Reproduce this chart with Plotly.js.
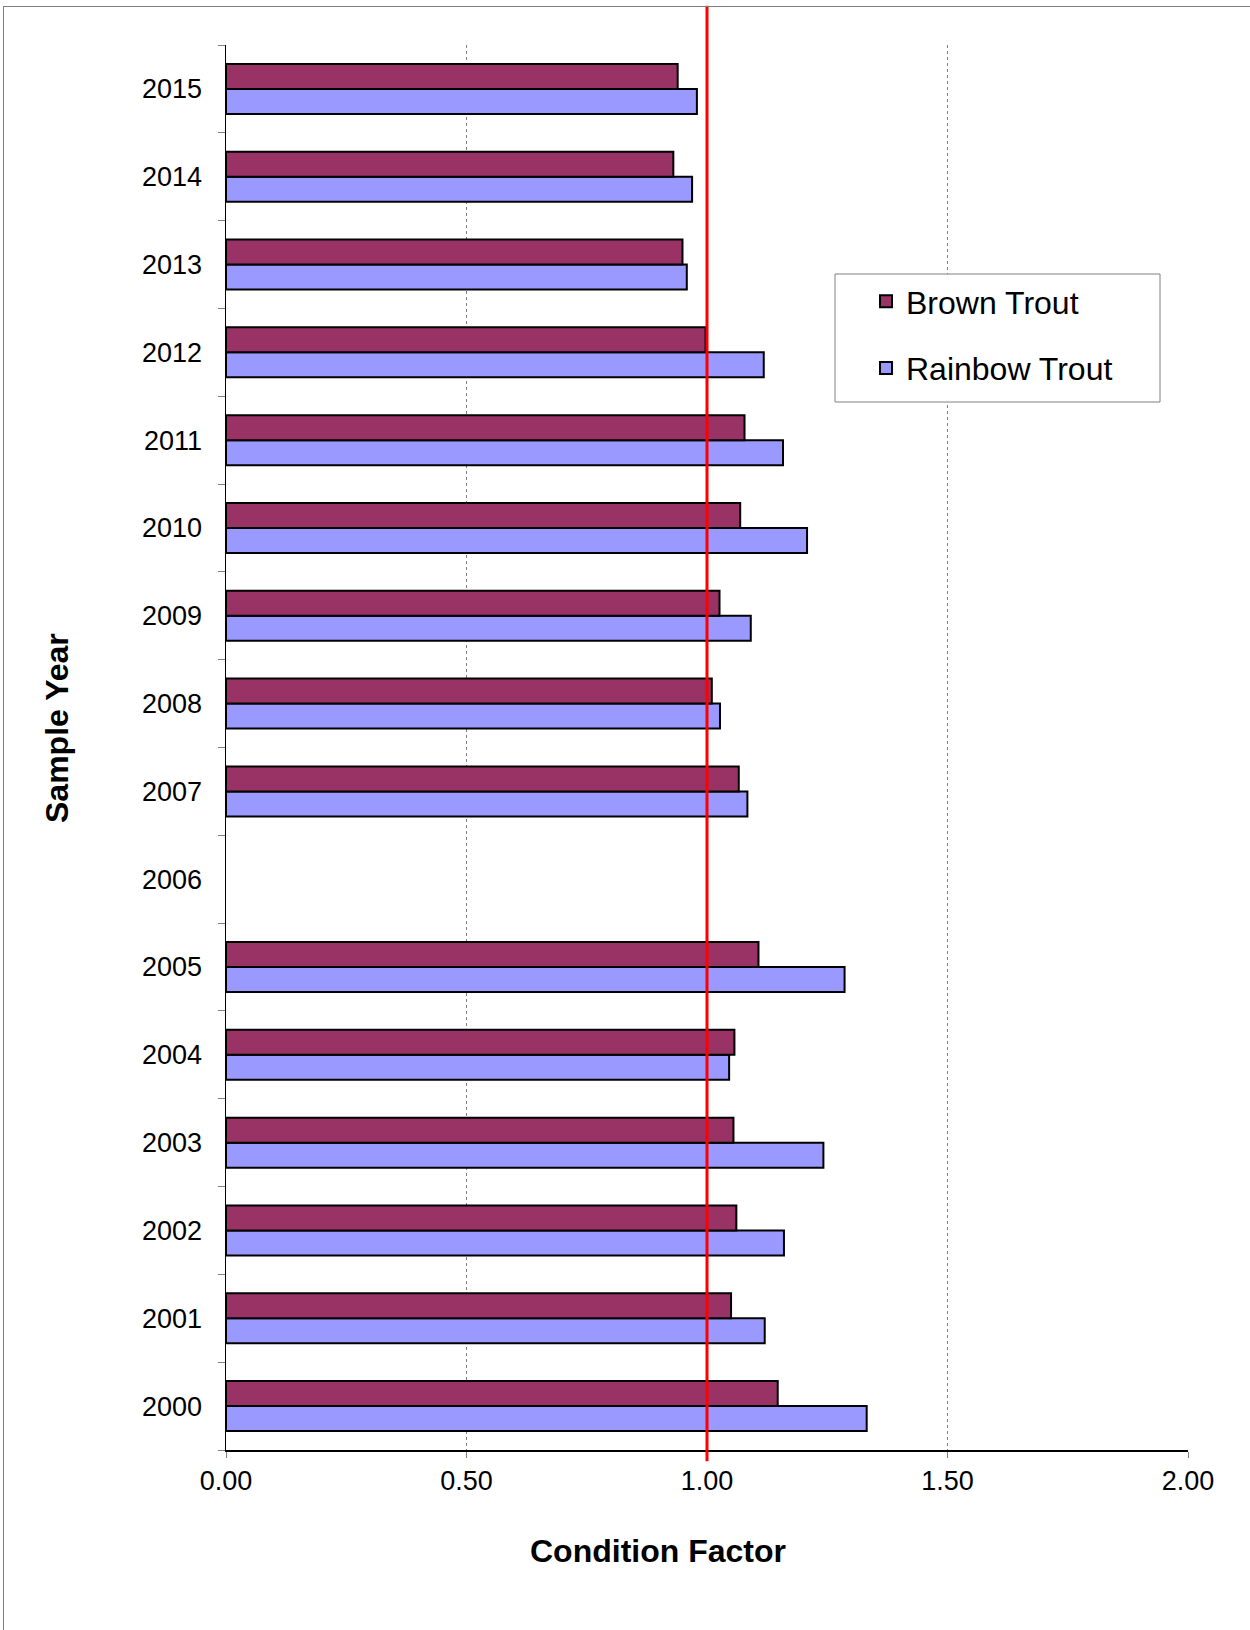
<!DOCTYPE html>
<html>
<head>
<meta charset="utf-8">
<script src="https://cdn.plot.ly/plotly-3.0.1.min.js"></script>
<style>
  html, body { margin: 0; padding: 0; background: #fff; }
  #wrap { position: relative; width: 1250px; height: 1630px; }
  #chart { width: 1250px; height: 1630px; }
  #frame { position: absolute; left: 3px; top: 6px; width: 1260px; height: 1640px;
           border-left: 1px solid #7f7f7f; border-top: 1px solid #7f7f7f; pointer-events: none; }
</style>
</head>
<body>
<div id="wrap">
  <div id="chart"></div>
  <div id="frame"></div>
</div>
<script>
// ---- data ----
const years = ['2000','2001','2002','2003','2004','2005','2006','2007','2008','2009','2010','2011','2012','2013','2014','2015'];
const brownTrout   = [1.147, 1.050, 1.061, 1.055, 1.057, 1.107, null, 1.066, 1.010, 1.026, 1.069, 1.078, 0.997, 0.949, 0.930, 0.939];
const rainbowTrout = [1.332, 1.120, 1.160, 1.242, 1.046, 1.286, null, 1.084, 1.027, 1.091, 1.208, 1.158, 1.118, 0.958, 0.969, 0.979];
const xTicks = [0, 0.5, 1.0, 1.5, 2.0];
const referenceLine = 1.0;

const font = '"Liberation Sans", Arial, sans-serif';

const traces = [
  {
    type: 'bar', orientation: 'h', name: 'Rainbow Trout',
    y: years, x: rainbowTrout, legendgroup: 'g2', legendrank: 2,
    marker: { color: '#9999FF', line: { color: '#000000', width: 2 } },
    hoverinfo: 'skip'
  },
  {
    type: 'bar', orientation: 'h', name: 'Brown Trout',
    y: years, x: brownTrout, legendgroup: 'g1', legendrank: 1,
    marker: { color: '#993366', line: { color: '#000000', width: 2 } },
    hoverinfo: 'skip'
  }
];

const px = v => (v - 226) / 962;      // pixel x -> paper
const py = v => (1450 - v) / 1405;    // pixel y -> paper

const layout = {
  width: 1250, height: 1630,
  margin: { l: 226, r: 62, t: 45, b: 180, pad: 0 },
  paper_bgcolor: '#ffffff', plot_bgcolor: '#ffffff',
  font: { family: font, color: '#000000', size: 27 },
  barmode: 'group', bargap: 0.43, bargroupgap: 0,
  showlegend: true,
  legend: {
    x: px(866), y: py(274), xanchor: 'left', yanchor: 'top',
    traceorder: 'grouped', tracegroupgap: 22,
    bgcolor: 'rgba(0,0,0,0)', borderwidth: 0,
    font: { family: font, size: 32, color: '#000000' }
  },
  xaxis: {
    range: [0, 2], tickvals: xTicks, tickformat: '.2f',
    showgrid: true, gridcolor: '#808080', griddash: 'dot', gridwidth: 1,
    zeroline: false, showline: true, linecolor: '#000000', linewidth: 1.5,
    ticks: 'outside', ticklen: 6, tickcolor: '#808080', tickwidth: 1,
    ticklabelstandoff: 0,
    tickfont: { family: font, size: 27, color: '#000000' },
    fixedrange: true
  },
  yaxis: {
    type: 'category', categoryorder: 'array', categoryarray: years,
    range: [-0.5, years.length - 0.5],
    showgrid: false, zeroline: false, showline: true, linecolor: '#000000', linewidth: 1.5,
    ticks: 'outside', tickson: 'boundaries', ticklen: 7, tickcolor: '#808080', tickwidth: 1,
    ticklabelstandoff: 17,
    tickfont: { family: font, size: 27, color: '#000000' },
    fixedrange: true
  },
  shapes: [
    {
      type: 'line', xref: 'x', yref: 'paper',
      x0: referenceLine, x1: referenceLine, y0: -0.008, y1: 1.028,
      line: { color: '#FF0000', width: 3 }
    },
    {
      type: 'rect', xref: 'paper', yref: 'paper', layer: 'above',
      x0: px(835), x1: px(1160), y0: py(402), y1: py(274),
      fillcolor: '#ffffff', line: { color: '#808080', width: 1 }
    }
  ],
  annotations: [
    {
      text: '<b>Condition Factor</b>', xref: 'paper', yref: 'paper',
      x: px(658), y: py(1551), xanchor: 'center', yanchor: 'middle',
      showarrow: false, font: { family: font, size: 32, color: '#000000' }
    },
    {
      text: '<b>Sample Year</b>', xref: 'paper', yref: 'paper', textangle: -90,
      x: px(57), y: py(728), xanchor: 'center', yanchor: 'middle',
      showarrow: false, font: { family: font, size: 32, color: '#000000' }
    }
  ]
};

Plotly.newPlot('chart', traces, layout, { staticPlot: true, displayModeBar: false });
</script>
</body>
</html>
